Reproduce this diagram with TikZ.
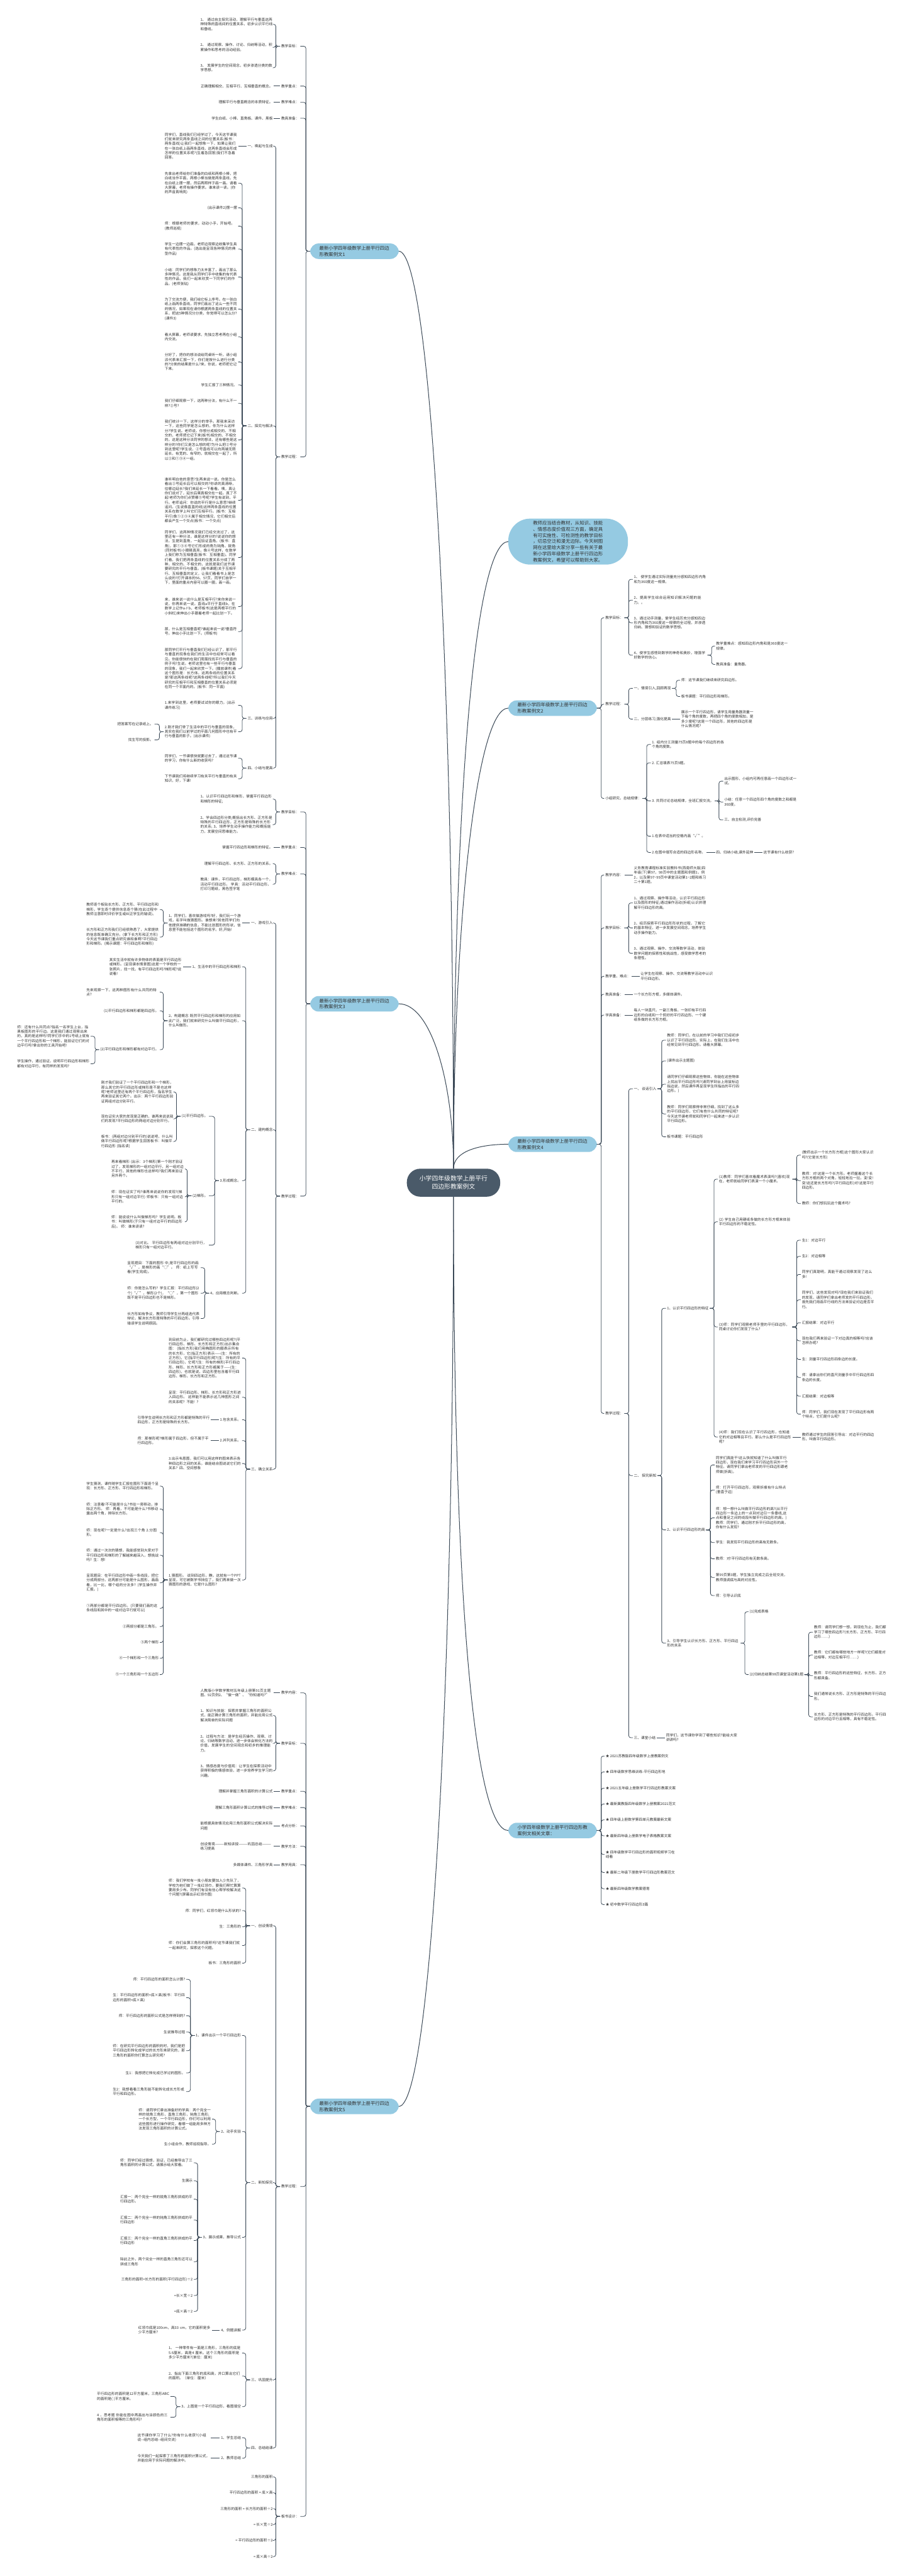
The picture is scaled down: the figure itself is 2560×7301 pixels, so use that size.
\documentclass[tikz,border=0pt]{standalone}
\usepackage{fontspec}
\setmainfont{Noto Sans CJK SC}
\XeTeXlinebreaklocale "zh"
\XeTeXlinebreakskip = 0pt plus 1pt
\definecolor{linec}{HTML}{3A4856}
\definecolor{topicc}{HTML}{4A5A69}
\definecolor{branchc}{HTML}{95CAE2}
\definecolor{textc}{HTML}{303030}
\tikzset{
  topic/.style={
    rectangle,
    rounded corners=38pt,
    fill=topicc,
    text=white,
    align=center,
    font=\fontsize{17.5}{23}\selectfont,
    inner xsep=36pt,
    inner ysep=20pt
  },
  branch/.style={
    rectangle,
    rounded corners=24pt,
    fill=branchc,
    text=textc,
    align=left,
    text width=199pt,
    font=\fontsize{13.2}{17.6}\selectfont,
    inner xsep=26pt,
    inner ysep=7pt
  },
  note/.style={branch, rounded corners=62pt, inner xsep=70pt, inner ysep=6pt},
  leaf/.style={align=left, text=textc, font=\fontsize{10.2}{13.1}\selectfont, inner xsep=3pt, inner ysep=1pt},
  para/.style={leaf, text width=205pt},
  link/.style={draw=linec, line width=1.4pt, rounded corners=6pt},
  trunk/.style={draw=linec, line width=1.8pt}
}
% brackets from a parent to its children
\newcommand{\kidsL}[2]{\foreach \k in {#2} {\draw[link] (#1.west) -- ++(-12,0) |- (#1\k.east);}}
\newcommand{\kidsR}[2]{\foreach \k in {#2} {\draw[link] (#1.east) -- ++(12,0) |- (#1\k.west);}}
\newcommand{\soloL}[2]{\draw[link] (#1.west) -- (#2.east);}
\newcommand{\soloR}[2]{\draw[link] (#1.east) -- (#2.west);}

\begin{document}
\begin{tikzpicture}[x=1pt, y=-1pt]
  \fill[white] (0,0) rectangle (2560,7301);
  \useasboundingbox (0,0) rectangle (2560,7301);

  \node[topic] (root) at (1285,3352) {小学四年级数学上册平行\\四边形教案例文};

  % ---------- example 1 (left, top)
  \node[branch, anchor=east] (ex1) at (1130,712) {最新小学四年级数学上册平行四边\\形教案例文1};
  \node[leaf, anchor=east] (ex1a) at (851,131) {教学目标：};
  \node[leaf, anchor=east] (ex1b) at (851,244) {教学重点：};
  \node[leaf, anchor=east] (ex1c) at (851,290) {教学难点：};
  \node[leaf, anchor=east] (ex1d) at (851,335) {教具准备：};
  \node[leaf, anchor=east] (ex1e) at (851,1295) {教学过程：};

  \node[para, anchor=east] (ex1a1) at (776,69) {1、 通过自主探究活动，理解平行与垂直这两种特殊的直线间的位置关系，初步认识平行线和垂线。};
  \node[para, anchor=east] (ex1a2) at (776,134) {2、 通过观察、操作、讨论、归纳等活动，积累操作和思考的活动经验。};
  \node[para, anchor=east] (ex1a3) at (776,192) {3、 发展学生的空间观念，初步渗透分类的数学思想。};
  \node[leaf, anchor=east] (ex1b1) at (776,244) {正确理解相交、互相平行、互相垂直的概念。};
  \node[leaf, anchor=east] (ex1c1) at (776,290) {理解平行与垂直概念的本质特征。};
  \node[leaf, anchor=east] (ex1d1) at (776,335) {学生白纸、小棒、直角板、课件、黑板};

  \node[leaf, anchor=east] (ex1ea) at (776,414) {一、唤起与生成};
  \node[leaf, anchor=east] (ex1eb) at (776,1207) {二、探究与解决};
  \node[leaf, anchor=east] (ex1ec) at (776,2036) {三、训练与应用};
  \node[leaf, anchor=east] (ex1ed) at (776,2177) {四、小结与提高};

  \node[para, anchor=east] (ex1ea1) at (675,414) {同学们，直线我们已经学过了，今天这节课我们就来研究两条直线之间的位置关系(板书：两条直线)让我们一起想象一下，如果让我们在一张白纸上画两条直线，这两条直线会形成怎样的位置关系呢?(生着急回答)我们不急着回答。};

  \node[para, anchor=east] (ex1eb1) at (675,519) {先拿出老师给你们准备的白纸和两根小棒，把白纸当作平面，两根小棒当做是两条直线，先在白纸上摆一摆，然后再照样子画一画。请看大屏幕，老师有操作要求。谁来读一读。(你的声音真响亮)};
  \node[leaf, anchor=east] (ex1eb2) at (675,589) {(出示课件2)摆一摆};
  \node[para, anchor=east] (ex1eb3) at (675,641) {师：根据老师的要求，动动小手，开始吧。(教师巡视)};
  \node[para, anchor=east] (ex1eb4) at (675,706) {学生一边摆一边画，老师边观察边收集学生具有代表性的作品。(选出能呈现各种情况的典型作品)};
  \node[para, anchor=east] (ex1eb5) at (675,785) {小结：同学们的想象力太丰富了，画出了那么多种情况。这是我从同学们手中收集的有代表性的作品，我们一起来欣赏一下同学们的作品。(老师张贴)};
  \node[para, anchor=east] (ex1eb6) at (675,876) {为了交流方便，我们给它标上序号。在一张白纸上画两条直线，同学们画出了这么一些不同的情况，如果现在请你根据两条直线的位置关系，把这5种情况分分类，你觉得可以怎么分?(课件3)};
  \node[para, anchor=east] (ex1eb7) at (675,955) {看大屏幕，老师读要求，先独立思考再在小组内交流。};
  \node[para, anchor=east] (ex1eb8) at (675,1026) {分好了，把你的想法说给同桌听一听，请小组派代表来汇报一下，你们是按什么进行分类的?分类的结果是什么?来，你说，老师把它记下来。};
  \node[leaf, anchor=east] (ex1eb9) at (675,1091) {学生汇报了三种情况。};
  \node[para, anchor=east] (ex1eb10) at (675,1143) {我们仔细观察一下，这两种分法，有什么不一样?②号?};
  \node[para, anchor=east] (ex1eb11) at (675,1247) {我们统计一下，这样分的举手。那我来采访一下，这些同学是怎么想的，你为什么这样分?学生说。老师说，你想分成相交的、不相交的，老师把它记下来(板书)相交的、不相交的。这是这种分法同学的想法，还有哪些是这样分的?你们又是怎么想的呢?为什么把②号分到这里呢?学生说，②号直线可以向两端无限延长，有宽的、有窄的，就相交在一起了，所以②和①③④一组。};
  \node[para, anchor=east] (ex1eb12) at (675,1418) {谁听明白他的意思?生再来说一说。你是怎么看出②号延长后可以相交的?你讲的真清晰，往哪边延长?我们来延长一下看看。咦，真让你们说对了，延长后果真相交在一起。真了不起!老师为你们点赞哪⑤号呢?学生有说到，平行。老师追问：你说的平行是什么意思?继续追问。(生说像直直的线)这样两条直线的位置关系在数学上叫它们互相平行。(板书：互相平行)像①②③④属于相交情况，它们相交后都会产生一个交点(板书：一个交点)};
  \node[para, anchor=east] (ex1eb13) at (675,1580) {同学们，这两种情况我们已经交流过了，这里还有一种分法，谁是这样分的?说说你的想法。生提到直角，一起验证直角。(板书：直角)，那①③④号它们形成的角为钝角、锐角(同时板书)小眼睛真亮，像④号这样，在数学上我们称为互相垂直(板书：互相垂直)。同学们看，我们把两条直线的位置关系分成了两种，相交的、不相交的，这就是我们这节课要研究的平行与垂直。(板书课题)关于互相平行、互相垂直的定义，让我们看看书上是怎么说的?打开课本的56、57页，同学们自学一下，里面的重点内容可以圈一圈，画一画。};
  \node[para, anchor=east] (ex1eb14) at (675,1719) {来，谁来说一说什么是互相平行?来你来说一说，你再来说一说。直线a平行于直线b，在数学上记作a∥b，老师板书(这是两根平行的小斜杠)来伸出小手跟着老师一起比划一下。};
  \node[para, anchor=east] (ex1eb15) at (675,1790) {那，什么是互相垂直呢?谁起来说一说?垂直符号。伸出小手比划一下。(师板书)};
  \node[para, anchor=east] (ex1eb16) at (675,1895) {那同学们平行与垂直我们已经认识了，那平行与垂直的现象在我们的生活中也经常可以看见。你能很快的在我们周围找找平行与垂直的例子吗?生说。老师这里也有一些平行与垂直的现象，我们一起来欣赏一下。(播放课件)看这个图形是：长方体。这两条线的位置关系是?那这两条线呢?这两条线呢?所以我们今天研究的互相平行和互相垂直的位置关系必须是在同一个平面内的。(板书：同一平面)};

  \node[para, anchor=east] (ex1ec1) at (675,1999) {1.来学到这里，老师要试试你的眼力。(出示课件练习)};
  \node[para, anchor=east] (ex1ec2) at (675,2074) {2.刚才我们举了生活中的平行与垂直的现象，其实在我们以前学过的平面几何图形中也有平行与垂直的影子。(出示课件)};
  \node[leaf, anchor=east] (ex1ec2a) at (438,2052) {把答案写在记录纸上。};
  \node[leaf, anchor=east] (ex1ec2b) at (438,2097) {找生写的投影。};
  \node[para, anchor=east] (ex1ed1) at (675,2149) {同学们，一节课很快就要过去了，通过这节课的学习，你有什么新的收获吗?};
  \node[para, anchor=east] (ex1ed2) at (675,2207) {下节课我们将继续学习有关平行与垂直的有关知识，好，下课!};

  % ---------- example 3 (left, middle)
  \node[branch, anchor=east] (ex3) at (1130,2845) {最新小学四年级数学上册平行四边\\形教案例文3};
  \node[leaf, anchor=east] (ex3a) at (851,2301) {教学目标：};
  \node[leaf, anchor=east] (ex3b) at (851,2402) {教学重点：};
  \node[leaf, anchor=east] (ex3c) at (851,2477) {教学难点：};
  \node[leaf, anchor=east] (ex3d) at (851,3390) {教学过程：};

  \node[para, anchor=east] (ex3a1) at (776,2265) {1、认识平行四边形和梯形，掌握平行四边形和梯形的特征;};
  \node[para, anchor=east] (ex3a2) at (776,2337) {2、学会四边形分类;概括出长方形、正方形是特殊的平行四边形，正方形是特殊的长方形的关系; 3、培养学生动手操作能力和概括能力，发展空间思维能力。};
  \node[leaf, anchor=east] (ex3b1) at (776,2402) {掌握平行四边形和梯形的特征。};
  \node[leaf, anchor=east] (ex3c1) at (776,2448) {理解平行四边形、长方形、正方形的关系。};
  \node[para, anchor=east] (ex3c2) at (776,2506) {教具：课件，平行四边形，梯形模具各一个，活动平行四边形。 学具：活动平行四边形，打印习题纸，黑色签字笔};

  \node[leaf, anchor=east] (ex3da) at (776,2616) {一、游戏引入};
  \node[leaf, anchor=east] (ex3db) at (776,3202) {二、建构概念};
  \node[leaf, anchor=east] (ex3dc) at (776,4164) {三、确立关系};

  \node[para, anchor=east] (ex3da1) at (686,2616) {1、同学们，喜欢做游戏吗?好，我们玩一个游戏，名字叫做猜图形。谁想来?其他同学们向他提供准确的信息，不能比划图形的形状，信息里不能包括这个图形的名字。好,开始!};
  \node[para, anchor=east] (ex3da1a) at (453,2578) {教师逐个板贴长方形、正方形、平行四边形和梯形，学生逐个提供信息逐个猜(在此过程中教师注意即时评价学生或纠正学生的错误)。};
  \node[para, anchor=east] (ex3da1b) at (453,2656) {长方形和正方形我们已经很熟悉了，大家提供的信息既准确又充分。(拿下长方形和正方形)今天这节课我们重点研究谁和谁啊?平行四边形和梯形。(揭示课题：平行四边形和梯形)};

  \node[leaf, anchor=east] (ex3db1) at (686,2740) {1、生活中的平行四边形和梯形};
  \node[para, anchor=east] (ex3db1a) at (518,2740) {其实生活中就有许多物体的表面是平行四边形或梯形。(呈现课本情景图)这是一个学校的一张照片，找一找，有平行四边形吗?梯形呢?说说看!};
  \node[para, anchor=east] (ex3db2) at (686,2893) {2、构建概念 既然平行四边形和梯形的应用如此广泛，我们就来研究什么叫做平行四边形，什么叫做形。};
  \node[para, anchor=east] (ex3db2a) at (453,2812) {先来观察一下，这两种图形有什么共同的特点?};
  \node[leaf, anchor=east] (ex3db2b) at (453,2865) {(1)平行四边形和梯形都是四边形。};
  \node[leaf, anchor=east] (ex3db2c) at (453,2975) {(2)平行四边形和梯形都有对边平行。};
  \node[para, anchor=east] (ex3db2c1) at (257,2937) {师：还有什么共同点?指名一名学生上台，指黑板图形的平行边。这是我们通过观察出来的，真的是这样吗?同学们手中的1号纸上就有一个平行四边形和一个梯形，能验证它们的对边平行吗?拿出你的工具开始吧!};
  \node[para, anchor=east] (ex3db2c2) at (257,3015) {学生操作，通过验证，说明平行四边形和梯形都有对边平行，有同样的发现吗?};

  \node[leaf, anchor=east] (ex3db3) at (686,3346) {3.形成概念。};
  \node[leaf, anchor=east] (ex3db3a) at (592,3164) {(1)平行四边形。};
  \node[para, anchor=east] (ex3db3a1) at (495,3095) {刚才我们验证了一个平行四边形和一个梯形，那么其它的平行四边形或梯形是不是也这样呢?老师这里还有两个平行四边形，指名学生再来验证其它两个。出示：两个平行四边形验证两组对边分别平行。};
  \node[para, anchor=east] (ex3db3a2) at (495,3171) {现在证实大家的发现是正确的，谁再来说说我们的发现?平行四边形的两组对边分别平行。};
  \node[para, anchor=east] (ex3db3a3) at (495,3235) {板书：(两组对边分别平行的)说说吧，什么叫做平行四边形呢?根据学生回答板书：叫做平行四边形 (指名读)};
  \node[leaf, anchor=east] (ex3db3b) at (592,3389) {(2)梯形。};
  \node[para, anchor=east] (ex3db3b1) at (524,3313) {再来看梯形 (出示：3个梯形)第一个刚才验证过了，发现梯形的一组对边平行，另一组对边不平行，其他的梯形也这样吗?我们再来验证另外两个。};
  \node[para, anchor=east] (ex3db3b2) at (524,3392) {师：现在证实了吗?谁再来说说你的发现?(梯形只有一组对边平行) 师板书：只有一组对边平行的。};
  \node[para, anchor=east] (ex3db3b3) at (524,3463) {师：能说说什么叫做梯形吗? 学生说明。板书：叫做梯形(于只有一组对边平行的四边形后)。 师：谁来读读?};
  \node[para, anchor=east] (ex3db3c) at (592,3529) {(3)对比。 平行四边形有两组对边分别平行，梯形只有一组对边平行。};

  \node[leaf, anchor=east] (ex3db4) at (686,3665) {4、应用概念判断。};
  \node[para, anchor=east] (ex3db4a) at (569,3593) {呈现题目：下面的图形 中,是平行四边形的画“√”，是梯形的画“○”。 师：纸上写写看(学生完成)。};
  \node[para, anchor=east] (ex3db4b) at (569,3665) {师：你是怎么写的? 学生汇报：平行四边形(2个)“√”，梯形(2个)，“○”，第一个图形既不是平行四边形也不是梯形。};
  \node[para, anchor=east] (ex3db4c) at (569,3737) {长方形如有争议，教师引导学生分两组选代表辩论，解决长方形是特殊的平行四边形。引导错误学生说明原因。};

  \node[para, anchor=east] (ex3dc1) at (686,3849) {到目前为止，我们都研究过哪些四边形呢?(平行四边形、梯形、长方形和正方形)出示集合图： (指长方形)我们用椭圆形的圈表示所有的长方形，它(指正方形)表示——(生：所有的正方形)，它(指平行四边形)呢?(生：所有的平行四边形)，它呢?(生：所有的梯形)平行四边形、梯形、长方形和正方形都属于——(生：四边形)，也就是说，四边形里包含着平行四边形、梯形、长方形和正方形。};
  \node[para, anchor=east] (ex3dc2) at (686,3960) {呈现：平行四边形、梯形、长方形和正方形进入四边形。 这样能不能表示这几种图形之间的关系呢? 不能! ?};
  \node[leaf, anchor=east] (ex3dc3) at (686,4024) {1.包含关系。};
  \node[para, anchor=east] (ex3dc3a) at (598,4024) {引导学生说明长方形和正方形都是特殊的平行四边形，正方形是特殊的长方形。};
  \node[leaf, anchor=east] (ex3dc4) at (686,4083) {2.并列关系。};
  \node[para, anchor=east] (ex3dc4a) at (598,4083) {师：那梯形呢?梯形属于四边形，但不属于平行四边形。};
  \node[para, anchor=east] (ex3dc5) at (686,4148) {3.出示韦恩图，我们可以用这样的图来表示各种四边形之间的关系。谁能结合图说说它们的关系? 四、空间想象};
  \node[para, anchor=east] (ex3dc6) at (686,4478) {1.猜图形。 说到四边形，瞧，这就有一个PPT呈现，可它被数学书挡住了，我们再来做一次猜图形的游戏，它是什么图形?};
  \node[para, anchor=east] (ex3dc6a) at (453,4212) {学生猜测，课件随学生汇报在图形下面逐个呈现：长方形、正方形、平行四边形和梯形。};
  \node[para, anchor=east] (ex3dc6b) at (453,4277) {师：注意看!不可能是什么?书往一旁移动，排除正方形。 师：再看，不可能是什么?书移动露出两个角，排除长方形。};
  \node[para, anchor=east] (ex3dc6c) at (453,4344) {师：现在呢?一定是什么?出现三个角 2.分图形。};
  \node[para, anchor=east] (ex3dc6d) at (453,4408) {师：通过一次次的猜想，我能感觉到大家对于平行四边形和梯形的了解越来越深入，想挑战吗? 生：想!};
  \node[para, anchor=east] (ex3dc6e) at (453,4486) {呈现题目：在平行四边形中画一条线段，把它分成两部分。这两部分可能是什么图形，画画看，比一比，哪个组的分法多? (学生操作并汇报。)};
  \node[para, anchor=east] (ex3dc6f) at (453,4558) {①两部分都是平行四边形。(只要我们画的这条线段和其中的一组对边平行就可以)};
  \node[leaf, anchor=east] (ex3dc6g) at (453,4610) {②两部分都是三角形。};
  \node[leaf, anchor=east] (ex3dc6h) at (453,4655) {③两个梯形};
  \node[leaf, anchor=east] (ex3dc6i) at (453,4700) {④一个梯形和一个三角形};
  \node[leaf, anchor=east] (ex3dc6j) at (453,4746) {⑤一个三角形和一个五边形};

  % ---------- example 5 (left, bottom)
  \node[branch, anchor=east] (ex5) at (1130,5970) {最新小学四年级数学上册平行四边\\形教案例文5};
  \node[leaf, anchor=east] (ex5a) at (851,4798) {教学内容：};
  \node[leaf, anchor=east] (ex5b) at (851,4941) {教学目标：};
  \node[leaf, anchor=east] (ex5c) at (851,5077) {教学重点：};
  \node[leaf, anchor=east] (ex5d) at (851,5123) {教学难点：};
  \node[leaf, anchor=east] (ex5e) at (851,5175) {考点分析：};
  \node[leaf, anchor=east] (ex5f) at (851,5233) {教学方法：};
  \node[leaf, anchor=east] (ex5g) at (851,5285) {教学用具：};
  \node[leaf, anchor=east] (ex5h) at (851,6197) {教学过程：};
  \node[leaf, anchor=east] (ex5i) at (851,7132) {板书设计：};

  \node[para, anchor=east] (ex5a1) at (776,4798) {人教版小学数学教材五年级上册第91页主题图、92页例2、“做一做”、“你知道吗?”};
  \node[para, anchor=east] (ex5b1) at (776,4862) {1、知识与技能：探索并掌握三角形的面积公式，能正确计算三角形的面积，并能应用公式解决简单的实际问题};
  \node[para, anchor=east] (ex5b2) at (776,4941) {2、过程与方法：是学生经历操作、观察、讨论、归纳等数学活动，进一步体会转化方法的价值，发展学生的空间观念和初步的推理能力。};
  \node[para, anchor=east] (ex5b3) at (776,5019) {3、情感态度与价值观：让学生在探索活动中获得积极的情感体验，进一步培养学生学习的兴趣。};
  \node[leaf, anchor=east] (ex5c1) at (776,5077) {理解并掌握三角形面积的计算公式};
  \node[leaf, anchor=east] (ex5d1) at (776,5123) {理解三角形面积计算公式的推导过程};
  \node[para, anchor=east] (ex5e1) at (776,5175) {能根据具体情况应用三角形面积公式解决实际问题};
  \node[para, anchor=east] (ex5f1) at (776,5233) {创设情境———新知讲授———巩固总结———练习提高};
  \node[leaf, anchor=east] (ex5g1) at (776,5285) {多媒体课件、三角形学具};

  \node[leaf, anchor=east] (ex5ha) at (776,5458) {一、创设情境};
  \node[leaf, anchor=east] (ex5hb) at (776,6186) {二、新知探究};
  \node[leaf, anchor=east] (ex5hc) at (776,6745) {三、巩固提升};
  \node[leaf, anchor=east] (ex5hd) at (776,6938) {四、总结结课};

  \node[para, anchor=east] (ex5ha1) at (686,5351) {师：我们学校有一批小朋友要加入少先队了，学校为他们做了一批红领巾，要我们帮忙算算要用多少布。同学们有没有信心帮学校解决这个问题?(屏幕出示红领巾图)};
  \node[leaf, anchor=east] (ex5ha2) at (686,5415) {师：同学们，红领巾是什么形状的?};
  \node[leaf, anchor=east] (ex5ha3) at (686,5461) {生：三角形的};
  \node[para, anchor=east] (ex5ha4) at (686,5514) {师：你们会算三角形的面积吗?这节课我们就一起来研究，探索这个问题。};
  \node[leaf, anchor=east] (ex5ha5) at (686,5564) {板书：三角形的面积};

  \node[leaf, anchor=east] (ex5hb1) at (686,5769) {1、课件出示一个平行四边形};
  \node[leaf, anchor=east] (ex5hb1a) at (528,5610) {师：平行四边形的面积怎么计算?};
  \node[para, anchor=east] (ex5hb1b) at (528,5662) {生：平行四边形的面积=底×高(板书：平行四边形的面积=底×高)};
  \node[leaf, anchor=east] (ex5hb1c) at (528,5713) {师：平行四边形的面积公式是怎样得到的?};
  \node[leaf, anchor=east] (ex5hb1d) at (528,5759) {生说推导过程};
  \node[para, anchor=east] (ex5hb1e) at (528,5812) {师：在研究平行四边形的面积的时，我们是把平行四边形转化成学过的长方形来研究的，那三角形的面积你打算怎么研究呢?};
  \node[leaf, anchor=east] (ex5hb1f) at (528,5875) {生1：我想把它转化成已学过的图形。};
  \node[para, anchor=east] (ex5hb1g) at (528,5928) {生2：我想看看三角形能不能转化成长方形或平行和四边形。};
  \node[leaf, anchor=east] (ex5hb2) at (686,6041) {2、动手实验};
  \node[para, anchor=east] (ex5hb2a) at (601,6006) {师：请同学们拿出准备好的学具：两个完全一样的锐角三角形，直角三角形，钝角三角形;一个长方型，一个平行四边形，你们可以利用这些图形进行操作研究，看哪一组能用多种方法发现三角形面积的计算公式。};
  \node[leaf, anchor=east] (ex5hb2b) at (601,6077) {生小组合作，教师巡视指导。};
  \node[leaf, anchor=east] (ex5hb3) at (686,6341) {3、展示成果，推导公式};
  \node[para, anchor=east] (ex5hb3a) at (549,6130) {师：同学们经过猜想，验证，已经推导出了三角形面积的计算公式。请展示给大家看。};
  \node[leaf, anchor=east] (ex5hb3b) at (549,6181) {生展示};
  \node[para, anchor=east] (ex5hb3c) at (549,6233) {汇报一：两个完全一样的锐角三角形拼成的平行四边形。};
  \node[para, anchor=east] (ex5hb3d) at (549,6292) {汇报二：两个完全一样的钝角三角形拼成的平行四边形};
  \node[para, anchor=east] (ex5hb3e) at (549,6350) {汇报三：两个完全一样的直角三角形拼成的平行四边形};
  \node[para, anchor=east] (ex5hb3f) at (549,6410) {除此之外，两个完全一样的直角三角形还可以拼成三角形};
  \node[leaf, anchor=east] (ex5hb3g) at (549,6460) {三角形的面积=长方形的面积(平行四边形)÷2};
  \node[leaf, anchor=east] (ex5hb3h) at (549,6506) {=长×宽÷2};
  \node[leaf, anchor=east] (ex5hb3i) at (549,6551) {=底×高÷2};
  \node[leaf, anchor=east] (ex5hb4) at (686,6604) {4、例题讲解};
  \node[para, anchor=east] (ex5hb4a) at (600,6604) {红领巾底是100cm，高33 cm，它的面积是多少平方厘米?};

  \node[para, anchor=east] (ex5hc1) at (686,6669) {1、 一种零件有一面是三角形，三角形的底是5.6厘米，高是4 厘米。这个三角形的面积是多少平方厘米?(单位：厘米)};
  \node[para, anchor=east] (ex5hc2) at (686,6734) {2、指出下面三角形的底和高，并口算出它们的面积。（单位：厘米）};
  \node[leaf, anchor=east] (ex5hc3) at (686,6821) {3、上图是一个平行四边形，看图填空};
  \node[para, anchor=east] (ex5hc3a) at (483,6792) {平行四边形的面积是12平方厘米，三角形ABC的面积是( )平方厘米。};
  \node[para, anchor=east] (ex5hc3b) at (483,6851) {4 、思考题 你能在图中再画出与涂颜色的三角形的面积相等的三角形吗?};

  \node[leaf, anchor=east] (ex5hd1) at (686,6909) {1、学生总结};
  \node[para, anchor=east] (ex5hd1a) at (598,6909) {这节课你学习了什么?你有什么收获?(小组说-{}-组内总结-{}-组间交流)};
  \node[leaf, anchor=east] (ex5hd2) at (686,6967) {2、教师总结};
  \node[para, anchor=east] (ex5hd2a) at (598,6967) {今天我们一起探索了三角形的面积计算公式，并能应用于实际问题的解决中。};

  \node[leaf, anchor=east] (ex5i1) at (776,7020) {三角形的面积};
  \node[leaf, anchor=east] (ex5i2) at (776,7065) {平行四边形的面积 = 底×高};
  \node[leaf, anchor=east] (ex5i3) at (776,7110) {三角形的面积 = 长方形的面积÷2};
  \node[leaf, anchor=east] (ex5i4) at (776,7155) {= 长×宽÷2};
  \node[leaf, anchor=east] (ex5i5) at (776,7200) {= 平行四边形的面积÷2};
  \node[leaf, anchor=east] (ex5i6) at (776,7246) {= 底×高÷2};

  % ---------- intro (right, top)
  \node[note, anchor=west] (intro) at (1440,1535) {教师应当结合教材，从知识、技能\\、情感态度价值观三方面，确定具\\有可实施性、可检测性的教学目标\\，切忌空泛和漫无边际。今天树图\\网在这里给大家分享一些有关于最\\新小学四年级数学上册平行四边形\\教案例文，希望可以帮助到大家。};

  % ---------- example 2 (right)
  \node[branch, anchor=west] (ex2) at (1440,2007) {最新小学四年级数学上册平行四边\\形教案例文2};
  \node[leaf, anchor=west] (ex2a) at (1712,1751) {教学目标：};
  \node[leaf, anchor=west] (ex2b) at (1712,1996) {教学过程：};
  \node[leaf, anchor=west] (ex2c) at (1712,2263) {小组研究，总结规律：};

  \node[para, anchor=west] (ex2a1) at (1793,1642) {1、 使学生通过实际测量充分感知四边形内角和为360度这一规律。};
  \node[para, anchor=west] (ex2a2) at (1793,1701) {2、提高学生综合运用知识解决问题的能力。。};
  \node[para, anchor=west] (ex2a3) at (1793,1765) {3、通过动手测量，使学生经历充分感知四边形内角和为360度这一规律的全过程，并渗透归纳、猜想和验证的数学思想。};
  \node[para, anchor=west] (ex2a4) at (1793,1857) {4、使学生感悟到数学的神奇和奥妙，增强学好数学的信心。};
  \node[para, anchor=west] (ex2a4a) at (2026,1831) {教学重难点：感知四边形内角和是360度这一规律。};
  \node[leaf, anchor=west] (ex2a4b) at (2026,1883) {教具准备：量角器。};

  \node[leaf, anchor=west] (ex2b1) at (1793,1951) {一、情境引入,回顾再现};
  \node[leaf, anchor=west] (ex2b1a) at (1927,1928) {师：这节课我们继续来研究四边形。};
  \node[leaf, anchor=west] (ex2b1b) at (1927,1974) {板书课题：平行四边形和梯形。};
  \node[leaf, anchor=west] (ex2b2) at (1793,2038) {二、分层练习,强化提高};
  \node[para, anchor=west] (ex2b2a) at (1927,2038) {展示一个平行四边形，请学生用量角器测量一下每个角的度数，再把四个角的度数相加，是多少度呢?这是一个四边形，其他的四边形是什么情况呢?};

  \node[para, anchor=west] (ex2c1) at (1844,2110) {1. 组内分工测量75页8题中的每个四边形的各个角的度数。};
  \node[leaf, anchor=west] (ex2c2) at (1844,2162) {2. 汇总填表75页9题。};
  \node[leaf, anchor=west] (ex2c3) at (1844,2270) {3. 共同讨论总结规律，全班汇报交流。};
  \node[para, anchor=west] (ex2c3a) at (2049,2214) {出示图形，小组内可再任意画一个四边形试一试。};
  \node[para, anchor=west] (ex2c3b) at (2049,2273) {小结：任意一个四边形四个角的度数之和都是360度。};
  \node[leaf, anchor=west] (ex2c3c) at (2049,2324) {三、自主检测,评价完善};
  \node[leaf, anchor=west] (ex2c4) at (1844,2370) {1.在表中适当的空格内画“√”。};
  \node[leaf, anchor=west] (ex2c5) at (1844,2416) {2.在图中填写合适的四边形名称。};
  \node[leaf, anchor=west] (ex2c5a) at (2026,2416) {四、归纳小结,课外延伸};
  \node[leaf, anchor=west] (ex2c5b) at (2160,2416) {这节课有什么收获?};

  % ---------- example 4 (right)
  \node[branch, anchor=west] (ex4) at (1440,3243) {最新小学四年级数学上册平行四边\\形教案例文4};
  \node[leaf, anchor=west] (ex4a) at (1712,2480) {教学内容：};
  \node[leaf, anchor=west] (ex4b) at (1712,2630) {教学目标：};
  \node[leaf, anchor=west] (ex4c) at (1712,2767) {教学重、难点：};
  \node[leaf, anchor=west] (ex4d) at (1712,2818) {教具准备：};
  \node[leaf, anchor=west] (ex4e) at (1712,2877) {学具准备：};
  \node[leaf, anchor=west] (ex4f) at (1712,4006) {教学过程：};

  \node[para, anchor=west] (ex4a1) at (1793,2480) {义务教育课程标准实验教科书(西南师大版)四年级(下)第97，98页中的主题图和例题1，例2，以及第97\textasciitilde{}99页中课堂活动第1\textasciitilde{}2题和练习二十第1题。};
  \node[para, anchor=west] (ex4b1) at (1793,2559) {1、通过观察、操作等活动，认识平行四边形以及图形的特征;通过操作活动(折纸)认识并理解平行四边形的高。};
  \node[para, anchor=west] (ex4b2) at (1793,2630) {2、经历探索平行四边形形状的过程，了解它的基本特征，进一步发展空间观念，培养学生动手操作能力。};
  \node[para, anchor=west] (ex4b3) at (1793,2702) {3、通过观察、操作、交流等数学活动，体验数学问题的探索性和挑战性，感受数学思考的条理性。};
  \node[para, anchor=west] (ex4c1) at (1812,2767) {让学生在观察、操作、交流等教学活动中认识平行四边形。};
  \node[leaf, anchor=west] (ex4d1) at (1793,2818) {一个长方形方框，多媒体课件。};
  \node[para, anchor=west] (ex4e1) at (1793,2877) {每人一块直尺、一副三角板、一张印有平行四边形的白纸和一个剪好的平行四边形、一个硬纸条做的长方形方框。};

  \node[leaf, anchor=west] (ex4fa) at (1793,3086) {一、 谈话引入};
  \node[leaf, anchor=west] (ex4fb) at (1793,4182) {二、 探究新知};
  \node[leaf, anchor=west] (ex4fc) at (1793,4925) {三、课堂小结};

  \node[para, anchor=west] (ex4fa1) at (1887,2948) {教师：同学们，在以前的学习中我们已经初步认识了平行四边形。实际上，在我们生活中也经常见到平行四边形。请看大屏幕。};
  \node[leaf, anchor=west] (ex4fa2) at (1887,3007) {(课件出示主题图)};
  \node[para, anchor=west] (ex4fa3) at (1887,3073) {请同学们仔细观察这些物体，你能在这些物体上找出平行四边形吗?(请同学到台上用鼠标边指边说，然后课件再呈现学生所指出的平行四边形。)};
  \node[para, anchor=west] (ex4fa4) at (1887,3157) {教师：同学们观察得非常仔细，找到了这么多的平行四边形，它们有些什么共同的特征呢?今天这节课老师就和同学们一起来进一步认识平行四边形。};
  \node[leaf, anchor=west] (ex4fa5) at (1887,3222) {板书课题：平行四边形};

  \node[leaf, anchor=west] (ex4fb1) at (1887,3708) {1、认识平行四边形的特征};
  \node[para, anchor=west] (ex4fb1a) at (2034,3342) {(1)教师：同学们喜欢看魔术表演吗?(喜欢)现在，老师就给同学们表演一个小魔术。};
  \node[para, anchor=west] (ex4fb1a1) at (2269,3274) {(教师出示一个长方形方框)这个图形大家认识吗?(它是长方形)};
  \node[para, anchor=west] (ex4fb1a2) at (2269,3346) {教师：对!这是一个长方形。老师握着这个长方形方框的两个对角，轻轻地拉一拉。变!变!变!这还是长方形吗?(平行四边形)对!这是平行四边形。};
  \node[leaf, anchor=west] (ex4fb1a3) at (2269,3411) {教师：你们想玩玩这个魔术吗?};
  \node[para, anchor=west] (ex4fb1b) at (2034,3463) {(2) 学生自己用硬纸条做的长方形方框来体验平行四边形的不稳定性。};
  \node[para, anchor=west] (ex4fb1c) at (2034,3761) {(3)师：同学们观察老师手里的平行四边形，同桌讨论你们发现了什么?};
  \node[leaf, anchor=west] (ex4fb1c1) at (2269,3515) {生1：对边平行};
  \node[leaf, anchor=west] (ex4fb1c2) at (2269,3561) {生2：对边相等};
  \node[para, anchor=west] (ex4fb1c3) at (2269,3612) {同学们真聪明，真能干通过观察发现了这么多!};
  \node[para, anchor=west] (ex4fb1c4) at (2269,3684) {同学们，这些发现对吗?现在我们来验证我们的发现，请同学们拿出老师发的平行四边形，首先我们用画平行线的方法来验证对边是否平行。};
  \node[leaf, anchor=west] (ex4fb1c5) at (2269,3749) {汇报结果：对边平行};
  \node[para, anchor=west] (ex4fb1c6) at (2269,3800) {现在我们再来验证一下对边真的相等吗?应该怎样办呢?};
  \node[leaf, anchor=west] (ex4fb1c7) at (2269,3853) {生：测量平行四边形四条边的长度。};
  \node[para, anchor=west] (ex4fb1c8) at (2269,3904) {师：请拿出你们的直尺测量手中平行四边形四条边的长度。};
  \node[leaf, anchor=west] (ex4fb1c9) at (2269,3957) {汇报结果：对边相等};
  \node[para, anchor=west] (ex4fb1c10) at (2269,4008) {师：同学们，我们现在发现了平行四边形有两个特点，它们是什么呢?};
  \node[para, anchor=west] (ex4fb1d) at (2034,4073) {(4)师：我们现在认识了平行四边形，也知道它的对边相等且平行。那么什么是平行四边形呢?};
  \node[para, anchor=west] (ex4fb1d1) at (2269,4073) {教师通过学生的回答引导出：对边平行的四边形，叫做平行四边形。};

  \node[leaf, anchor=west] (ex4fb2) at (1887,4336) {2、认识平行四边形的高};
  \node[para, anchor=west] (ex4fb2a) at (2025,4152) {同学们真能干!这么快就知道了什么叫做平行四边形，现在我们来学习平行四边形另外一个特征。请同学们拿出老师发的平行四边形跟老师做(折高)。};
  \node[para, anchor=west] (ex4fb2b) at (2025,4223) {师：打开平行四边形，观察折痕有什么特点(垂直于边)};
  \node[para, anchor=west] (ex4fb2c) at (2025,4302) {师：想一想什么叫做平行四边形的高?(从平行四边形一条边上的一点到对边引一条垂线,这点和垂足之间的线段叫做平行四边形的高。)教师：同学们，通过刚才折平行四边形的高，你有什么发现?};
  \node[leaf, anchor=west] (ex4fb2d) at (2025,4372) {学生：我发现平行四边形的高有无数条。};
  \node[leaf, anchor=west] (ex4fb2e) at (2025,4418) {教师：对!平行四边形有无数条高。};
  \node[para, anchor=west] (ex4fb2f) at (2025,4471) {第99页第3题，学生独立完成之后全班交流，教师强调底与高的对应性。};
  \node[leaf, anchor=west] (ex4fb2g) at (2025,4522) {师：引导认识底};

  \node[para, anchor=west] (ex4fb3) at (1887,4657) {3、引导学生认识长方形、正方形、平行四边形的关系};
  \node[leaf, anchor=west] (ex4fb3a) at (2121,4568) {(1)完成表格};
  \node[leaf, anchor=west] (ex4fb3b) at (2121,4746) {(2)归纳总结第98页课堂活动第1题};
  \node[para, anchor=west] (ex4fb3b1) at (2303,4626) {教师：请同学们想一想，到现在为止，我们都学习了哪些四边形?(长方形、正方形、平行四边形……)};
  \node[para, anchor=west] (ex4fb3b2) at (2303,4691) {教师：它们都有哪些地方一样呢?(它们都是对边相等，对边互相平行……)};
  \node[para, anchor=west] (ex4fb3b3) at (2303,4749) {教师：平行四边形的这些特征，长方形、正方形都具备。};
  \node[para, anchor=west] (ex4fb3b4) at (2303,4808) {我们通常说长方形、正方形是特殊的平行四边形。};
  \node[para, anchor=west] (ex4fb3b5) at (2303,4866) {长方形、正方形是特殊的平行四边形。平行四边形的对边平行且相等，具有不稳定性。};

  \node[para, anchor=west] (ex4fc1) at (1884,4925) {同学们，这节课你学到了哪些知识?能给大家讲讲吗?};

  % ---------- related articles (right, bottom)
  \node[branch, anchor=west] (rel) at (1440,5188) {小学四年级数学上册平行四边形教\\案例文相关文章：};
  \node[leaf, anchor=west] (rel1) at (1713,4977) {★ 2021苏教版四年级数学上册教案例文};
  \node[leaf, anchor=west] (rel2) at (1713,5022) {★ 四年级数学思维训练-平行四边形地};
  \node[leaf, anchor=west] (rel3) at (1713,5068) {★ 2021五年级上册数学平行四边形教案文案};
  \node[leaf, anchor=west] (rel4) at (1713,5113) {★ 最新冀教版四年级数学上册教案2021范文};
  \node[leaf, anchor=west] (rel5) at (1713,5158) {★ 四年级上册数学第四单元教案最新文案};
  \node[leaf, anchor=west] (rel6) at (1713,5203) {★ 最新四年级上册数学电子表格教案文案};
  \node[leaf, anchor=west] (rel7) at (1713,5256) {★ 四年级数学平行四边形的面积视频学习在\\线看};
  \node[leaf, anchor=west] (rel8) at (1713,5307) {★ 最新二年级下册数学平行四边形教案范文};
  \node[leaf, anchor=west] (rel9) at (1713,5353) {★ 最新四年级数学教案德育};
  \node[leaf, anchor=west] (rel10) at (1713,5398) {★ 初中数学平行四边形3篇};

  % ---------- curves from the root
  \draw[trunk] (root.north) .. controls +(0,-1400) and +(90,0) .. (ex1.east);
  \draw[trunk] (root.north) .. controls +(0,-250) and +(90,0) .. (ex3.east);
  \draw[trunk] (root.south) .. controls +(0,1400) and +(90,0) .. (ex5.east);
  \draw[trunk] (root.north) .. controls +(0,-1100) and +(-90,0) .. (intro.west);
  \draw[trunk] (root.north) .. controls +(0,-700) and +(-90,0) .. (ex2.west);
  \draw[trunk] (root.north) .. controls +(0,-50) and +(-80,0) .. (ex4.west);
  \draw[trunk] (root.south) .. controls +(0,1200) and +(-90,0) .. (rel.west);

  % ---------- brackets, left side
  \kidsL{ex1}{a,b,c,d,e}
  \kidsL{ex1a}{1,2,3}
  \soloL{ex1b}{ex1b1} \soloL{ex1c}{ex1c1} \soloL{ex1d}{ex1d1}
  \kidsL{ex1e}{a,b,c,d}
  \soloL{ex1ea}{ex1ea1}
  \kidsL{ex1eb}{1,...,16}
  \kidsL{ex1ec}{1,2}
  \kidsL{ex1ec2}{a,b}
  \kidsL{ex1ed}{1,2}

  \kidsL{ex3}{a,b,c,d}
  \kidsL{ex3a}{1,2}
  \soloL{ex3b}{ex3b1}
  \kidsL{ex3c}{1,2}
  \kidsL{ex3d}{a,b,c}
  \soloL{ex3da}{ex3da1}
  \kidsL{ex3da1}{a,b}
  \kidsL{ex3db}{1,2,3,4}
  \soloL{ex3db1}{ex3db1a}
  \kidsL{ex3db2}{a,b,c}
  \kidsL{ex3db2c}{1,2}
  \kidsL{ex3db3}{a,b,c}
  \kidsL{ex3db3a}{1,2,3}
  \kidsL{ex3db3b}{1,2,3}
  \kidsL{ex3db4}{a,b,c}
  \kidsL{ex3dc}{1,2,3,4,5,6}
  \soloL{ex3dc3}{ex3dc3a} \soloL{ex3dc4}{ex3dc4a}
  \kidsL{ex3dc6}{a,b,c,d,e,f,g,h,i,j}

  \kidsL{ex5}{a,b,c,d,e,f,g,h,i}
  \soloL{ex5a}{ex5a1}
  \kidsL{ex5b}{1,2,3}
  \soloL{ex5c}{ex5c1} \soloL{ex5d}{ex5d1} \soloL{ex5e}{ex5e1}
  \soloL{ex5f}{ex5f1} \soloL{ex5g}{ex5g1}
  \kidsL{ex5h}{a,b,c,d}
  \kidsL{ex5ha}{1,2,3,4,5}
  \kidsL{ex5hb}{1,2,3,4}
  \kidsL{ex5hb1}{a,b,c,d,e,f,g}
  \kidsL{ex5hb2}{a,b}
  \kidsL{ex5hb3}{a,b,c,d,e,f,g,h,i}
  \soloL{ex5hb4}{ex5hb4a}
  \kidsL{ex5hc}{1,2,3}
  \kidsL{ex5hc3}{a,b}
  \kidsL{ex5hd}{1,2}
  \soloL{ex5hd1}{ex5hd1a} \soloL{ex5hd2}{ex5hd2a}
  \kidsL{ex5i}{1,2,3,4,5,6}

  % ---------- brackets, right side
  \kidsR{ex2}{a,b,c}
  \kidsR{ex2a}{1,2,3,4}
  \kidsR{ex2a4}{a,b}
  \kidsR{ex2b}{1,2}
  \kidsR{ex2b1}{a,b}
  \soloR{ex2b2}{ex2b2a}
  \kidsR{ex2c}{1,2,3,4,5}
  \kidsR{ex2c3}{a,b,c}
  \soloR{ex2c5}{ex2c5a} \soloR{ex2c5a}{ex2c5b}

  \kidsR{ex4}{a,b,c,d,e,f}
  \soloR{ex4a}{ex4a1}
  \kidsR{ex4b}{1,2,3}
  \soloR{ex4c}{ex4c1} \soloR{ex4d}{ex4d1} \soloR{ex4e}{ex4e1}
  \kidsR{ex4f}{a,b,c}
  \kidsR{ex4fa}{1,2,3,4,5}
  \kidsR{ex4fb}{1,2,3}
  \kidsR{ex4fb1}{a,b,c,d}
  \kidsR{ex4fb1a}{1,2,3}
  \kidsR{ex4fb1c}{1,...,10}
  \soloR{ex4fb1d}{ex4fb1d1}
  \kidsR{ex4fb2}{a,b,c,d,e,f,g}
  \kidsR{ex4fb3}{a,b}
  \kidsR{ex4fb3b}{1,2,3,4,5}
  \soloR{ex4fc}{ex4fc1}

  \kidsR{rel}{1,...,10}
\end{tikzpicture}
\end{document}
